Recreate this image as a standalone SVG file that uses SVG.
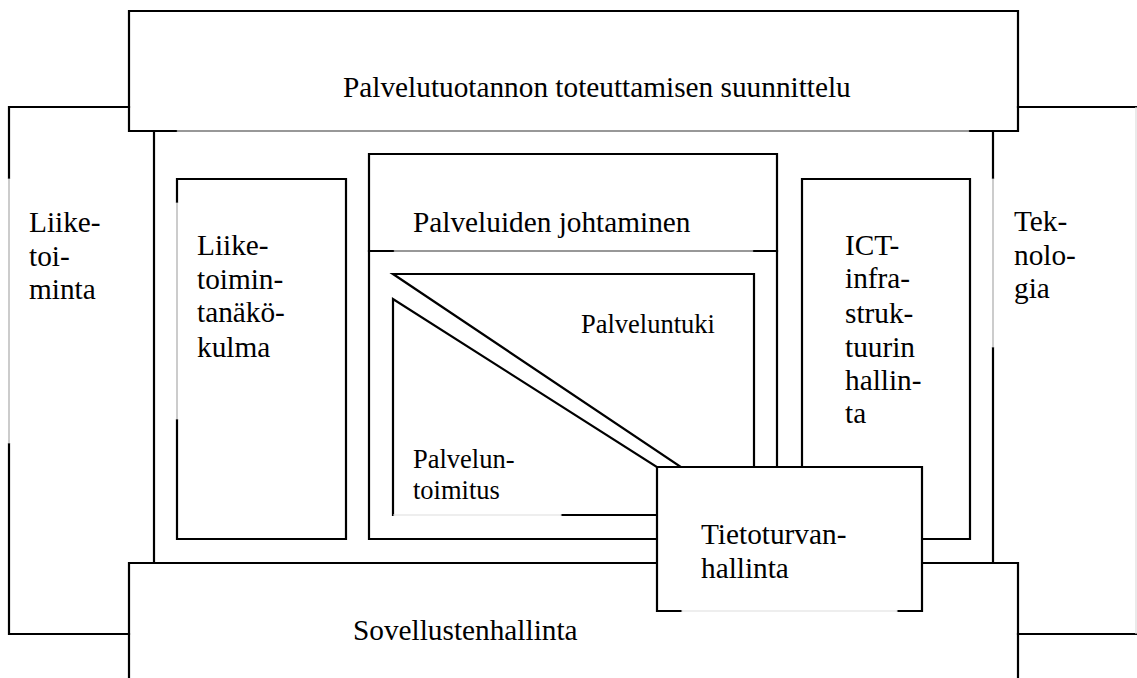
<svg xmlns="http://www.w3.org/2000/svg" width="1137" height="678" viewBox="0 0 1137 678">
<style>
.k{fill:none;stroke:#000;stroke-width:2.2;stroke-linecap:square}
.g{fill:none;stroke:#999;stroke-width:1}
.l{fill:none;stroke:#ddd;stroke-width:1.2}
.d{fill:none;stroke:#333;stroke-width:1.2}
</style>
<rect width="1137" height="678" fill="#fff"/>
<g id="liiketoiminta">
<path class="k" d="M129,107 H9 V178 M9,444 V634 H129"/>
<path class="g" d="M9,178 V444"/>
<text x="29" y="232" style="font-family:'Liberation Serif',serif;font-size:29.3px">Liike-</text>
<text x="29" y="265.5" style="font-family:'Liberation Serif',serif;font-size:29.3px">toi-</text>
<text x="29" y="299" style="font-family:'Liberation Serif',serif;font-size:29.3px">minta</text>
</g>
<g id="teknologia">
<path class="k" d="M1018,107 H1136 M1018,634 H1136"/>
<path class="l" d="M1136,107 V634"/>
<text x="1014" y="231" style="font-family:'Liberation Serif',serif;font-size:29.3px">Tek-</text>
<text x="1014" y="265" style="font-family:'Liberation Serif',serif;font-size:29.3px">nolo-</text>
<text x="1014" y="298" style="font-family:'Liberation Serif',serif;font-size:29.3px">gia</text>
</g>
<g id="kehys">
<path class="k" d="M154,131 V563 M993,131 V178 M993,348 V563"/>
<path class="g" d="M993,178 V348"/>
</g>
<g id="suunnittelu">
<path class="k" d="M176,131 H129 V11 H1018 V131 H970"/>
<path class="d" d="M176,131 H970"/>
<text x="343" y="97" style="font-family:'Liberation Serif',serif;font-size:29.3px">Palvelutuotannon toteuttamisen suunnittelu</text>
</g>
<g id="sovellustenhallinta">
<path class="k" d="M129,678 V563 H1018 V678"/>
<text x="353" y="640" style="font-family:'Liberation Serif',serif;font-size:29.3px">Sovellustenhallinta</text>
</g>
<g id="liiketoimintanakokulma">
<path class="k" d="M177,202 V179 H346 V539 H177 V420"/>
<path class="g" d="M177,202 V420"/>
<text x="197" y="255" style="font-family:'Liberation Serif',serif;font-size:29.3px">Liike-</text>
<text x="197" y="289" style="font-family:'Liberation Serif',serif;font-size:29.3px">toimin-</text>
<text x="197" y="322" style="font-family:'Liberation Serif',serif;font-size:29.3px">tanäkö-</text>
<text x="197" y="357" style="font-family:'Liberation Serif',serif;font-size:29.3px">kulma</text>
</g>
<g id="palveluiden-johtaminen">
<path class="k" d="M369,251 V154 H777 V251 M369,251 H393 M754,251 H777"/>
<path class="d" d="M393,251 H754"/>
<text x="413" y="232" style="font-family:'Liberation Serif',serif;font-size:29.3px">Palveluiden johtaminen</text>
</g>
<g id="sisakehys">
<path class="k" d="M369,251 V539 H657 M777,251 V539"/>
</g>
<g id="ict">
<path class="k" d="M802,539 V179 H970 V539 H922"/>
<text x="845" y="255" style="font-family:'Liberation Serif',serif;font-size:29.3px">ICT-</text>
<text x="845" y="288" style="font-family:'Liberation Serif',serif;font-size:29.3px">infra-</text>
<text x="845" y="323" style="font-family:'Liberation Serif',serif;font-size:29.3px">struk-</text>
<text x="845" y="357" style="font-family:'Liberation Serif',serif;font-size:29.3px">tuurin</text>
<text x="845" y="390" style="font-family:'Liberation Serif',serif;font-size:29.3px">hallin-</text>
<text x="845" y="423" style="font-family:'Liberation Serif',serif;font-size:29.3px">ta</text>
</g>
<g id="palveluntuki">
<path class="k" d="M681,467 L393,274 H754 V467"/>
<text x="581" y="333" style="font-family:'Liberation Serif',serif;font-size:26.5px">Palveluntuki</text>
</g>
<g id="palveluntoimitus">
<path class="k" d="M657,467 L393,299 V515 M562,515 H657"/>
<path class="l" d="M393,515 H562"/>
<text x="413" y="468" style="font-family:'Liberation Serif',serif;font-size:26.5px">Palvelun-</text>
<text x="413" y="499" style="font-family:'Liberation Serif',serif;font-size:26.5px">toimitus</text>
</g>
<g id="tietoturvanhallinta">
<rect x="657" y="467" width="265" height="144" fill="#fff"/>
<path class="k" d="M681,611 H657 V467 H922 V611 H898"/>
<path class="l" d="M681,611 H898"/>
<text x="701" y="544" style="font-family:'Liberation Serif',serif;font-size:29.3px">Tietoturvan-</text>
<text x="701" y="578" style="font-family:'Liberation Serif',serif;font-size:29.3px">hallinta</text>
</g>
</svg>
